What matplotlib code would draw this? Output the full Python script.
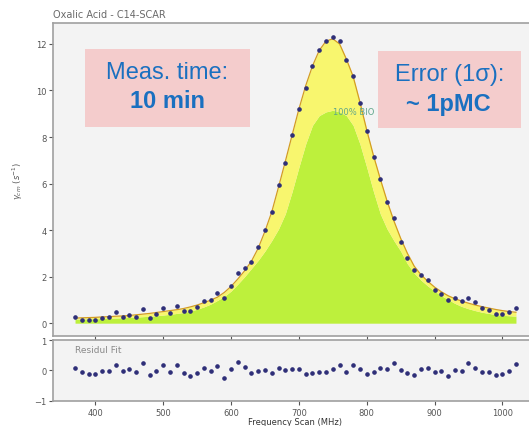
import matplotlib.pyplot as plt
from matplotlib.patches import Rectangle
import numpy as np

# Frequency scan (MHz) and measured signal
freq = np.arange(370, 1021, 10)
signal = [0.28, 0.14, 0.13, 0.14, 0.24, 0.27, 0.50, 0.26, 0.34, 0.27,
          0.61, 0.23, 0.41, 0.66, 0.44, 0.73, 0.53, 0.53, 0.69, 0.95,
          1.00, 1.31, 1.10, 1.61, 2.16, 2.37, 2.64, 3.29, 4.00, 4.76,
          5.95, 6.89, 8.09, 9.20, 10.09, 11.05, 11.74, 12.13, 12.29, 12.12,
          11.29, 10.64, 9.47, 8.24, 7.14, 6.20, 5.19, 4.50, 3.50, 2.79,
          2.30, 2.07, 1.86, 1.44, 1.27, 1.00, 1.07, 0.97, 1.10, 0.93,
          0.66, 0.58, 0.40, 0.39, 0.46, 0.64]

# total fit
fit = [0.22, 0.23, 0.24, 0.25, 0.27, 0.28, 0.30, 0.31, 0.33, 0.36,
       0.39, 0.42, 0.46, 0.50, 0.54, 0.58, 0.63, 0.70, 0.78, 0.88,
       0.99, 1.12, 1.32, 1.58, 1.90, 2.25, 2.66, 3.22, 3.95, 4.78,
       5.85, 6.95, 8.08, 9.20, 10.20, 11.05, 11.72, 12.12, 12.22, 12.00,
       11.35, 10.60, 9.50, 8.30, 7.20, 6.20, 5.25, 4.40, 3.65, 3.00,
       2.45, 2.08, 1.80, 1.55, 1.35, 1.18, 1.05, 0.95, 0.86, 0.78,
       0.71, 0.65, 0.59, 0.54, 0.50, 0.47]

# 100% BIO component
bio = [0.18, 0.18, 0.19, 0.19, 0.20, 0.21, 0.22, 0.23, 0.25, 0.26,
       0.28, 0.30, 0.32, 0.35, 0.38, 0.42, 0.46, 0.52, 0.60, 0.70,
       0.82, 0.98, 1.15, 1.38, 1.68, 2.00, 2.35, 2.70, 3.10, 3.55,
       4.05, 4.70, 5.65, 6.70, 7.70, 8.50, 8.92, 9.08, 9.15, 9.08,
       8.92, 8.50, 7.70, 6.70, 5.65, 4.70, 4.05, 3.55, 3.10, 2.55,
       2.15, 1.85, 1.60, 1.38, 1.18, 1.02, 0.85, 0.72, 0.62, 0.54,
       0.47, 0.42, 0.37, 0.34, 0.32, 0.30]

residual = [0.08, -0.07, -0.13, -0.11, -0.01, -0.01, 0.19, -0.03, 0.03, -0.07,
            0.25, -0.16, -0.03, 0.19, -0.07, 0.17, -0.09, -0.18, -0.09, 0.09,
            -0.03, 0.16, -0.24, 0.05, 0.29, 0.10, -0.09, -0.03, 0.00, -0.10,
            0.07, 0.00, 0.05, 0.03, -0.12, -0.09, -0.07, -0.07, 0.06, 0.17,
            -0.05, 0.17, 0.03, -0.12, -0.07, 0.07, 0.06, 0.25, 0.00, -0.09,
            -0.16, 0.06, 0.09, -0.05, -0.03, -0.18, 0.00, -0.03, 0.25, 0.09,
            -0.05, -0.05, -0.16, -0.13, -0.03, 0.21]

xticks = [400, 500, 600, 700, 800, 900, 1000]
yticks = [0, 2, 4, 6, 8, 10, 12]

dot_color = '#2f2f78'
tick_grey = '#555555'
spine_grey = '#a0a0a0'

fig = plt.figure(figsize=(5.29, 4.27), dpi=100)
ax = fig.add_axes([0.1008, 0.2108, 0.9143, 0.733])
ax_res = fig.add_axes([0.1008, 0.0593, 0.9143, 0.142], sharex=ax)

for a in (ax, ax_res):
    a.set_facecolor('#f3f3f3')
    for s in a.spines.values():
        s.set_color(spine_grey)
        s.set_linewidth(1.2)
    a.tick_params(labelsize=6, colors=tick_grey, length=3, width=0.8, pad=2)

ax.fill_between(freq, 0, bio, color='#bdf03c', lw=0)
ax.fill_between(freq, bio, fit, color='#f8f66e', lw=0)
ax.plot(freq, fit, color='#d39c22', lw=0.9)
ax.plot(freq, signal, 'o', ms=2.3, color=dot_color, zorder=3)
ax.text(750, 9.1, '100% BIO', fontsize=6, color='#5fa68a', va='center')

ax.set_xlim(338, 1051)
ax.set_ylim(-0.55, 12.9)
ax.set_yticks(yticks)
ax.tick_params(axis='x', labelbottom=False)
ax.set_ylabel(r'$\gamma_{cm}$ $(s^{-1})$', fontsize=6, color=tick_grey, labelpad=8)
ax.set_title('Oxalic Acid - C14-SCAR', loc='left', fontsize=7, color='#6a6a6a', pad=4)

ax_res.plot(freq, residual, 'o', ms=2.3, color=dot_color)
ax_res.set_ylim(-1, 1)
ax_res.set_yticks([-1, 0, 1])
ax_res.set_xticks(xticks)
ax_res.text(370, 0.69, 'Residul Fit', fontsize=6.5, color='#8a8a8a', va='center')
ax_res.set_xlabel('Frequency Scan (MHz)', fontsize=6, color='#333333', labelpad=0)

# overlay boxes with measurement info
box_kw = dict(transform=fig.transFigure, facecolor='#f4cccc', edgecolor='none', zorder=10)
fig.add_artist(Rectangle((0.1607, 0.701), 0.3119, 0.182, **box_kw))
fig.add_artist(Rectangle((0.7146, 0.6972), 0.2698, 0.1817, **box_kw))

txt_kw = dict(ha='center', va='center', fontsize=17, color='#1a70c0',
              family='Liberation Sans', zorder=11)
fig.text(0.3166, 0.829, 'Meas. time:', **txt_kw)
fig.text(0.3166, 0.7623, '10 min', fontweight='bold', **txt_kw)
fig.text(0.850, 0.8244, 'Error (1σ):', **txt_kw)
fig.text(0.848, 0.7564, '~ 1pMC', fontweight='bold', **txt_kw)

fig.savefig('out.png', dpi=100)
